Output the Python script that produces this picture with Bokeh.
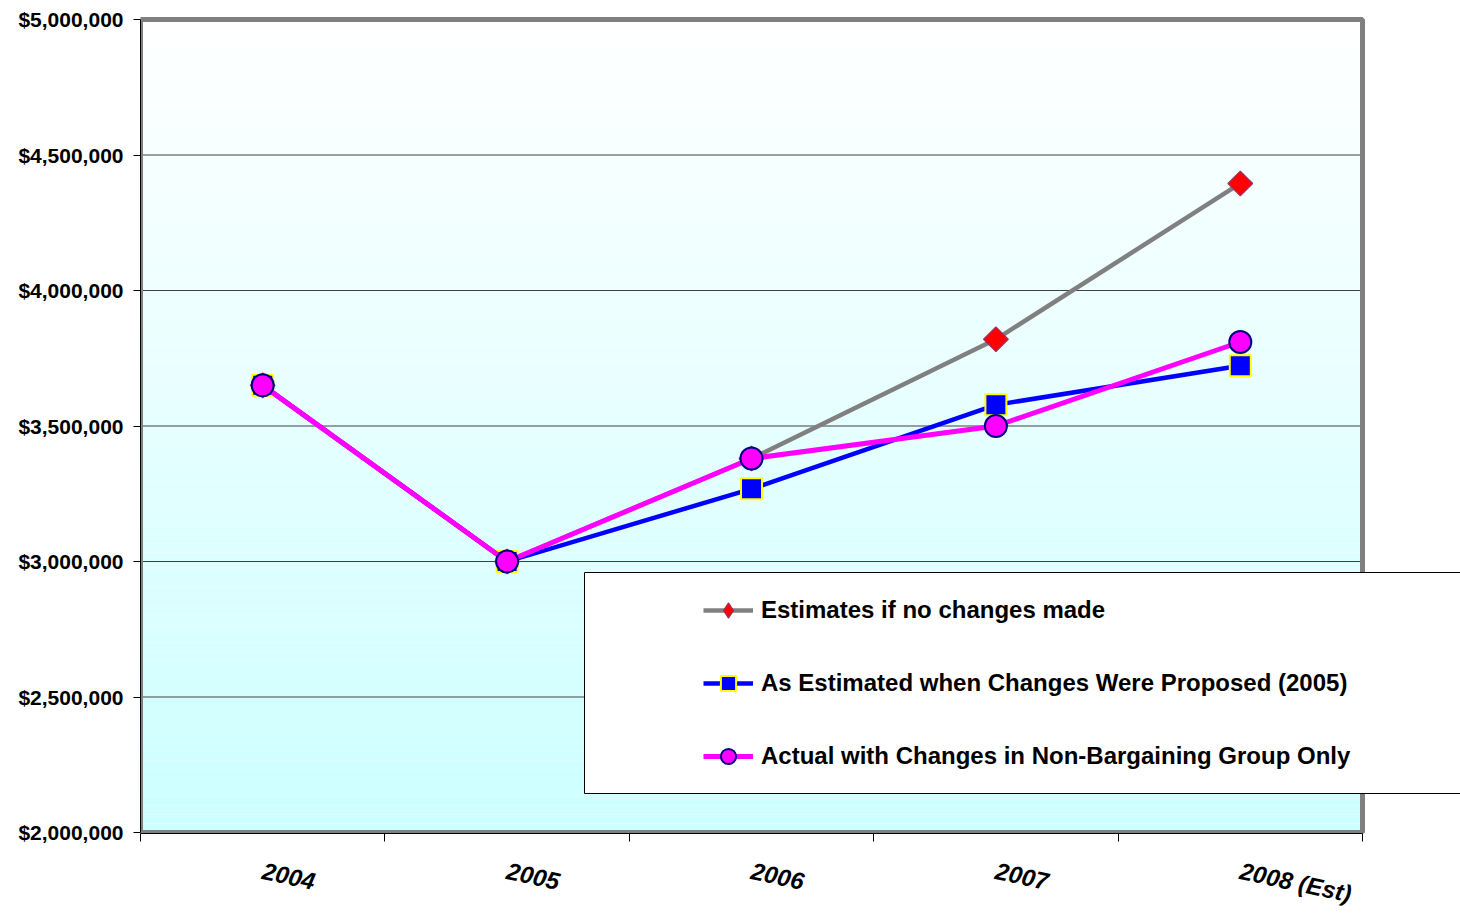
from bokeh.plotting import figure
from bokeh.models import (Range1d, FixedTicker, NumeralTickFormatter, Legend,
                          LegendItem, LinearAxis, ColumnDataSource)
from bokeh.embed import file_html
from bokeh.resources import INLINE

# ---- data -------------------------------------------------------------
categories = ["2004", "2005", "2006", "2007", "2008 (Est)"]
no_changes = [3650000, 3000000, 3380000, 3820000, 4395000]
as_proposed = [3650000, 3000000, 3268000, 3578000, 3722000]
actual_non_bargaining = [3650000, 3000000, 3380000, 3500000, 3810000]
series_labels = [
    "Estimates if no changes made",
    "As Estimated when Changes Were Proposed (2005)",
    "Actual with Changes in Non-Bargaining Group Only",
]
y_ticks = [2000000, 2500000, 3000000, 3500000, 4000000, 4500000, 5000000]

# ---- geometry ---------------------------------------------------------
n = len(categories)
xs = [i + 0.5 for i in range(n)]
y_lo, y_hi = y_ticks[0], y_ticks[-1]
px_per_unit_y = (832 - 19) / (y_hi - y_lo)
cat_px = (1362 - 140) / n
x_end = n + (1460 - 1362) / cat_px
y_start = y_lo - 1 / px_per_unit_y
y_end = y_hi + 4 / px_per_unit_y

p = figure(width=1460, height=923,
           x_range=Range1d(0, x_end), y_range=Range1d(y_start, y_end),
           x_axis_type=None, y_axis_type=None,
           output_backend="svg", toolbar_location=None,
           min_border_left=140, min_border_right=0,
           min_border_top=15, min_border_bottom=90)
p.outline_line_color = None
p.background_fill_color = "white"
p.border_fill_color = "white"

# plot-area gradient: white at top fading to pale cyan at the bottom
bands = 90
step = (y_hi - y_lo) / bands
b_bottom, b_top, b_color = [], [], []
for k in range(bands):
    t = (k + 0.5) / bands
    r = int(round(204 + 51 * t))
    b_bottom.append(y_lo + k * step)
    b_top.append(y_lo + (k + 1) * step + 1)
    b_color.append("#%02x%02x%02x" % (r, 255, 255))
p.quad(left=0, right=n, bottom=b_bottom, top=b_top, fill_color=b_color,
       line_color=None)

# horizontal grid lines
grid_vals = y_ticks[1:-1]
p.segment(x0=0, x1=n, y0=grid_vals, y1=grid_vals, line_color="#404040",
          line_width=1)

# plot-area border
p.quad(left=0, right=n, bottom=y_lo, top=y_hi, fill_color=None,
       line_color="#808080", line_width=5)

# ---- series -----------------------------------------------------------
src = ColumnDataSource(dict(x=xs, a=no_changes, b=as_proposed,
                            c=actual_non_bargaining))

l1 = p.line("x", "a", source=src, line_color="#808080", line_width=4.5)
m1 = p.scatter("x", "a", source=src, marker="square", angle=0.785398,
               size=17.5, fill_color="#FF0000", line_color="#993366",
               line_width=1.2)
# diamond used for the legend swatch only
m1_key = p.scatter("x", "a", source=src, marker="diamond", size=20,
                   fill_color="#FF0000", line_color="#993366", line_width=1.2,
                   visible=False)
l2 = p.line("x", "b", source=src, line_color="#0000FF", line_width=4.5)
m2 = p.scatter("x", "b", source=src, marker="square", size=21,
               fill_color="#0000FF", line_color="#FFFF00", line_width=2)
l3 = p.line("x", "c", source=src, line_color="#FF00FF", line_width=5)
m3 = p.scatter("x", "c", source=src, marker="circle", size=22,
               fill_color="#FF00FF", line_color="#000080", line_width=2)

# legend frame
box_left = (584 - 140) / cat_px
box_top = y_lo + (832 - 572) / px_per_unit_y
box_bottom = y_lo + (832 - 793) / px_per_unit_y
p.quad(left=box_left, right=x_end + 1, bottom=box_bottom, top=box_top,
       fill_color="white", line_color="black", line_width=1)

legend = Legend(items=[
    LegendItem(label=series_labels[0], renderers=[l1, m1_key]),
    LegendItem(label=series_labels[1], renderers=[l2, m2]),
    LegendItem(label=series_labels[2], renderers=[l3, m3]),
], location=(563, 58))
legend.padding = 0
legend.margin = 0
legend.spacing = 35
legend.glyph_width = 50
legend.glyph_height = 38
legend.label_height = 38
legend.label_standoff = 8
legend.border_line_color = None
legend.background_fill_alpha = 0
legend.inactive_fill_alpha = 0
legend.label_text_font = "Liberation Sans"
legend.label_text_font_style = "bold"
legend.label_text_font_size = "24px"
legend.label_text_color = "black"
p.add_layout(legend, "center")

# ---- axes -------------------------------------------------------------
yaxis = LinearAxis(ticker=FixedTicker(ticks=y_ticks),
                   formatter=NumeralTickFormatter(format="$0,0"),
                   bounds=(y_lo, y_hi))
yaxis.major_tick_out = 7
yaxis.major_tick_in = 0
yaxis.minor_tick_out = 0
yaxis.minor_tick_in = 0
yaxis.major_label_standoff = 10
yaxis.major_label_text_font = "Liberation Sans"
yaxis.major_label_text_font_style = "bold"
yaxis.major_label_text_font_size = "21px"
yaxis.major_label_text_color = "black"
yaxis.axis_line_color = "black"
yaxis.major_tick_line_color = "black"
p.add_layout(yaxis, "left")

xaxis = LinearAxis(ticker=FixedTicker(ticks=xs, minor_ticks=list(range(n + 1))),
                   bounds=(0, n))
xaxis.major_label_overrides = {x: c for x, c in zip(xs, categories)}
xaxis.major_tick_out = 0
xaxis.major_tick_in = 0
xaxis.minor_tick_out = 8
xaxis.minor_tick_in = 0
xaxis.minor_tick_line_color = "black"
xaxis.axis_line_color = "black"
xaxis.major_label_orientation = -0.21
xaxis.major_label_standoff = 29
xaxis.major_label_text_font = "Liberation Sans"
xaxis.major_label_text_font_style = "bold italic"
xaxis.major_label_text_font_size = "24px"
xaxis.major_label_text_line_height = 0.9
xaxis.major_label_text_color = "black"
p.add_layout(xaxis, "below")

open("out.html", "w").write(file_html(p, INLINE))
